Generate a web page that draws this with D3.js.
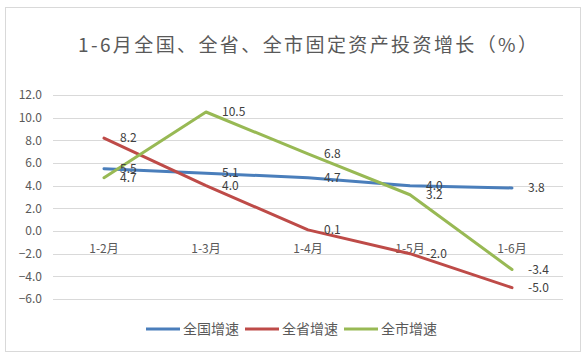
<!DOCTYPE html>
<html>
<head>
<meta charset="utf-8">
<script src="https://cdn.jsdelivr.net/npm/d3@7"></script>
<style>
html,body{margin:0;padding:0;background:#fff;}
svg text{font-family:"Noto Sans CJK SC","Noto Sans",sans-serif;}
</style>
</head>
<body>
<svg id="chart" width="587" height="358"></svg>
<script>
const title = "1-6月全国、全省、全市固定资产投资增长（%）";
const categories = ["1-2月","1-3月","1-4月","1-5月","1-6月"];
const yTicks = [12,10,8,6,4,2,0,-2,-4,-6];
const seriesNames = ["全国增速","全省增速","全市增速"];
const nationalValues = [5.5,5.1,4.7,4.0,3.8];
const provinceValues = [8.2,4.0,0.1,-2.0,-5.0];
const cityValues = [4.7,10.5,6.8,3.2,-3.4];
const colors = ["#4a7ebb","#be4b48","#98b954"];

const series = [nationalValues, provinceValues, cityValues].map((v,i)=>({name:seriesNames[i], values:v, color:colors[i]}));

const svg = d3.select("#chart");
// card border
svg.append("rect").attr("x",5.5).attr("y",7.5).attr("width",575).attr("height",344)
  .attr("fill","#fff").attr("stroke","#d9d9d9").attr("stroke-width",1);

const plotLeft=53, plotRight=563, plotTop=95, plotBottom=299;
const x = d3.scaleBand().domain(categories).range([plotLeft,plotRight]);
const y = d3.scaleLinear().domain([-6,12]).range([plotBottom,plotTop]);

// title
svg.append("text").attr("x",78).attr("y",52).attr("text-anchor","start")
  .attr("font-size",19).attr("fill","#595959")
  .attr("textLength",459).attr("lengthAdjust","spacing").text(title);

// gridlines
svg.append("g").selectAll("line").data(yTicks).join("line")
  .attr("x1",plotLeft).attr("x2",plotRight)
  .attr("y1",d=>Math.round(y(d))+0.5).attr("y2",d=>Math.round(y(d))+0.5)
  .attr("stroke","#d9d9d9").attr("stroke-width",1);

// y axis labels
const yAxis = d3.axisLeft(y).tickValues(yTicks).tickFormat(d3.format(".1f")).tickSize(0).tickPadding(0);
const yg = svg.append("g").attr("transform",`translate(${plotLeft-11},0)`).call(yAxis);
yg.select(".domain").remove();
yg.selectAll("text").attr("font-size",12).attr("fill","#595959").attr("font-family","Noto Sans CJK SC");

// x axis labels at zero line
const xAxis = d3.axisBottom(x).tickSize(0).tickPadding(0);
const xg = svg.append("g").attr("transform",`translate(0,${y(0)+13})`).call(xAxis);
xg.select(".domain").remove();
xg.selectAll("text").attr("font-size",12).attr("fill","#595959").attr("font-family","Noto Sans CJK SC");

const line = d3.line().x((d,i)=>x(categories[i])+x.bandwidth()/2).y(d=>y(d));

series.forEach(s=>{
  svg.append("path").datum(s.values).attr("d",line).attr("fill","none")
    .attr("stroke",s.color).attr("stroke-width",3).attr("stroke-linejoin","round").attr("stroke-linecap","round");
});
series.forEach(s=>{
  svg.append("g").selectAll("text").data(s.values).join("text")
    .attr("x",(d,i)=>x(categories[i])+x.bandwidth()/2+16)
    .attr("y",d=>y(d)).attr("dy","0.35em")
    .attr("font-size",12).attr("fill","#404040")
    .text(d=>d3.format(".1f")(d).replace("−","-"));
});

// legend
const legendX=[146,245,344];
const lg = svg.append("g");
series.forEach((s,i)=>{
  lg.append("line").attr("x1",legendX[i]).attr("x2",legendX[i]+34).attr("y1",329).attr("y2",329)
    .attr("stroke",s.color).attr("stroke-width",3);
  lg.append("text").attr("x",legendX[i]+37).attr("y",329).attr("dy","0.35em")
    .attr("font-size",14).attr("fill","#595959").text(s.name);
});
</script>
</body>
</html>
